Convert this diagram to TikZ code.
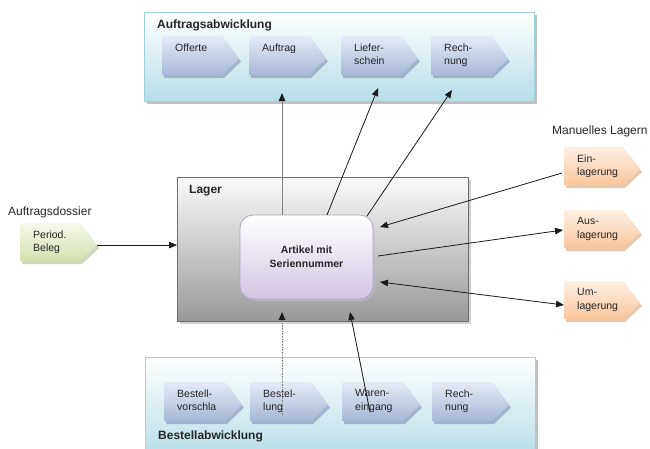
\documentclass[tikz,border=0pt]{standalone}
\usepackage{fontspec}
\setmainfont{Liberation Sans}
\usetikzlibrary{arrows.meta,calc,shadows}
\definecolor{txt}{HTML}{262626}
\definecolor{panelT}{HTML}{FFFFFF}
\definecolor{panelB}{HTML}{B6DEE6}
\definecolor{panelD}{HTML}{9FD2DB}
\definecolor{blueT}{HTML}{E6EBF6}
\definecolor{blueB}{HTML}{A7B7D8}
\definecolor{blueS}{HTML}{8E9DBF}
\definecolor{orangeT}{HTML}{FEF0E4}
\definecolor{orangeB}{HTML}{F9C69C}
\definecolor{orangeS}{HTML}{D9A57C}
\definecolor{greenT}{HTML}{F6F9EC}
\definecolor{greenB}{HTML}{D2E1AE}
\definecolor{greenS}{HTML}{AFBF8C}
\definecolor{lagerT}{HTML}{FAFAFA}
\definecolor{lagerB}{HTML}{999999}
\definecolor{lagerD}{HTML}{6E6E6E}
\definecolor{artT}{HTML}{FFFFFF}
\definecolor{artB}{HTML}{D2C5E1}
\definecolor{artD}{HTML}{B3A4C9}
\definecolor{lineC}{HTML}{1A1A1A}
\definecolor{lineG}{HTML}{808080}
\tikzset{
  x=1pt, y=-1pt,
  chevbox/.style={rectangle, inner sep=0pt, outer sep=0pt, draw=none},
  chevtext/.style={anchor=north west, inner sep=0pt, align=left,
    font=\fontsize{10.5}{13.5}\selectfont, text=txt},
  blueF/.style={top color=blueT, bottom color=blueB},
  blueS/.style={fill=blueS, opacity=0.7},
  orangeF/.style={top color=orangeT, bottom color=orangeB},
  orangeS/.style={fill=orangeS, opacity=0.6},
  greenF/.style={top color=greenT, bottom color=greenB},
  greenS/.style={fill=greenS, opacity=0.6},
  panelbox/.style={rectangle, inner sep=0pt, outer sep=0pt, anchor=north west,
    top color=panelT, bottom color=panelB, draw=panelD, line width=0.8pt,
    drop shadow={shadow xshift=2.5pt, shadow yshift=-2.5pt, fill=gray!70, opacity=0.7}},
  titletext/.style={anchor=base west, inner sep=0pt, font=\fontsize{12}{14}\selectfont\bfseries, text=txt},
  labeltext/.style={anchor=base west, inner sep=0pt, font=\fontsize{12}{14}\selectfont, text=txt},
  lagerbox/.style={rectangle, inner sep=0pt, outer sep=0pt, anchor=north west,
    top color=lagerT, bottom color=lagerB, draw=lagerD, line width=0.8pt,
    drop shadow={shadow xshift=3pt, shadow yshift=-3pt, fill=gray!45, opacity=0.8}},
  artbox/.style={rectangle, rounded corners=13pt, inner sep=0pt, outer sep=0pt, anchor=north west,
    top color=artT, bottom color=artB, draw=artD, line width=0.8pt,
    align=center, font=\fontsize{10.5}{14}\selectfont\bfseries, text=txt,
    drop shadow={shadow xshift=1.5pt, shadow yshift=-2pt, fill=gray!50, opacity=0.6}},
  conn/.style={draw=lineC, line width=0.8pt, -{Triangle[length=8pt,width=6.5pt]}},
  conngray/.style={draw=lineG, line width=0.8pt, -{Triangle[length=8pt,width=6.5pt,color=lineC]}},
  conndot/.style={draw=lineG, line width=0.9pt, dash pattern=on 0.8pt off 0.8pt,
    -{Triangle[length=8pt,width=6.5pt,color=lineC]}},
  conndouble/.style={draw=lineC, line width=0.8pt, {Triangle[length=8pt,width=6.5pt]}-{Triangle[length=8pt,width=6.5pt]}},
}
% name, x, y, w, h, colour key, text
\newcommand{\chev}[7]{%
  \fill[#6S] ({#2+2},{#3+3}) -- ({#2+#4-15},{#3+3}) -- ({#2+#4+2},{#3+0.58*#5+3})
     -- ({#2+#4-15},{#3+#5+3}) -- ({#2+2},{#3+#5+3}) -- cycle;
  \path[#6F] (#2,#3) -- ({#2+#4-17},#3) -- ({#2+#4},{#3+0.58*#5})
     -- ({#2+#4-17},{#3+#5}) -- (#2,{#3+#5}) -- cycle;
  \node[chevbox, minimum width=#4pt, minimum height=#5pt, anchor=north west] (#1) at (#2,#3) {};
  \node[chevtext] (#1t) at ([shift={(13,7.3)}]#1.north west) {#7};
}
\begin{document}
\begin{tikzpicture}
\clip (0,0) rectangle (650,448);
\fill[white] (0,0) rectangle (650,448);

% panels
\node[panelbox, minimum width=390pt, minimum height=89pt] (auftragspanel) at (144,12) {};
\node[titletext] (auftragstitel) at (157,28) {Auftragsabwicklung};
\node[panelbox, minimum width=390pt, minimum height=100pt] (bestellpanel) at (145,357) {};

% Lager
\node[lagerbox, minimum width=291pt, minimum height=144pt] (lager) at (177,177) {};
\node[titletext] (lagertitel) at (189,193) {Lager};
\node[artbox, minimum width=133pt, minimum height=84pt] (artikel) at (240,215) {Artikel mit\\Seriennummer};

% top chevrons
\chev{offerte}{162}{36}{77}{39}{blue}{Offerte}
\chev{auftrag}{249}{36}{77}{39}{blue}{Auftrag}
\chev{liefer}{341}{36}{77}{39}{blue}{Liefer-\\schein}
\chev{rechnung}{431}{36}{77}{39}{blue}{Rech-\\nung}

% bottom chevrons
\chev{vorschlag}{164}{382}{78}{39}{blue}{Bestell-\\vorschla}
\chev{bestellung}{250}{382}{78}{39}{blue}{Bestel-\\lung}
\chev{wareneingang}{342}{382}{78}{39}{blue}{Waren-\\eingang}
\chev{rechnungb}{432}{382}{77}{39}{blue}{Rech-\\nung}
\node[titletext] (bestelltitel) at (158,439) {Bestellabwicklung};

% right chevrons
\node[labeltext] (manuell) at (552,134) {Manuelles Lagern};
\chev{ein}{564}{147}{76}{38}{orange}{Ein-\\lagerung}
\chev{aus}{564}{210}{76}{38}{orange}{Aus-\\lagerung}
\chev{um}{564}{281}{76}{38}{orange}{Um-\\lagerung}

% left chevron
\node[labeltext] (dossier) at (8,215) {Auftragsdossier};
\chev{beleg}{20}{223}{77}{38}{green}{Period.\\Beleg}

% connectors
\coordinate (belegtip) at ($(beleg.north east)!0.58!(beleg.south east)$);
\draw[conn] (belegtip) -- (belegtip -| lager.west);

\draw[conngray] ([xshift=-24.5pt]artikel.north) -- ([shift={(-5.5,18)}]auftrag.south);
\draw[conn] ([xshift=20.5pt]artikel.north) -- ([shift={(-1.5,13)}]liefer.south);
\draw[conn] ([shift={(-6,1)}]artikel.north east) -- ([shift={(-17.5,15)}]rechnung.south);

\draw[conn] ([shift={(-2,7)}]ein.west) -- ([shift={(7,-30)}]artikel.east);
\draw[conn] ([shift={(5,-1)}]artikel.east) -- ([shift={(-1,1)}]aus.west);
\draw[conndouble] ([shift={(7,25)}]artikel.east) -- ([shift={(0,5)}]um.west);

\draw[conndot] ([shift={(-7,33)}]bestellung.north) -- ([shift={(-24.5,13)}]artikel.south);
\draw[conn] ([shift={(-11,30)}]wareneingang.north) -- ([shift={(43.5,13)}]artikel.south);
\end{tikzpicture}
\end{document}
